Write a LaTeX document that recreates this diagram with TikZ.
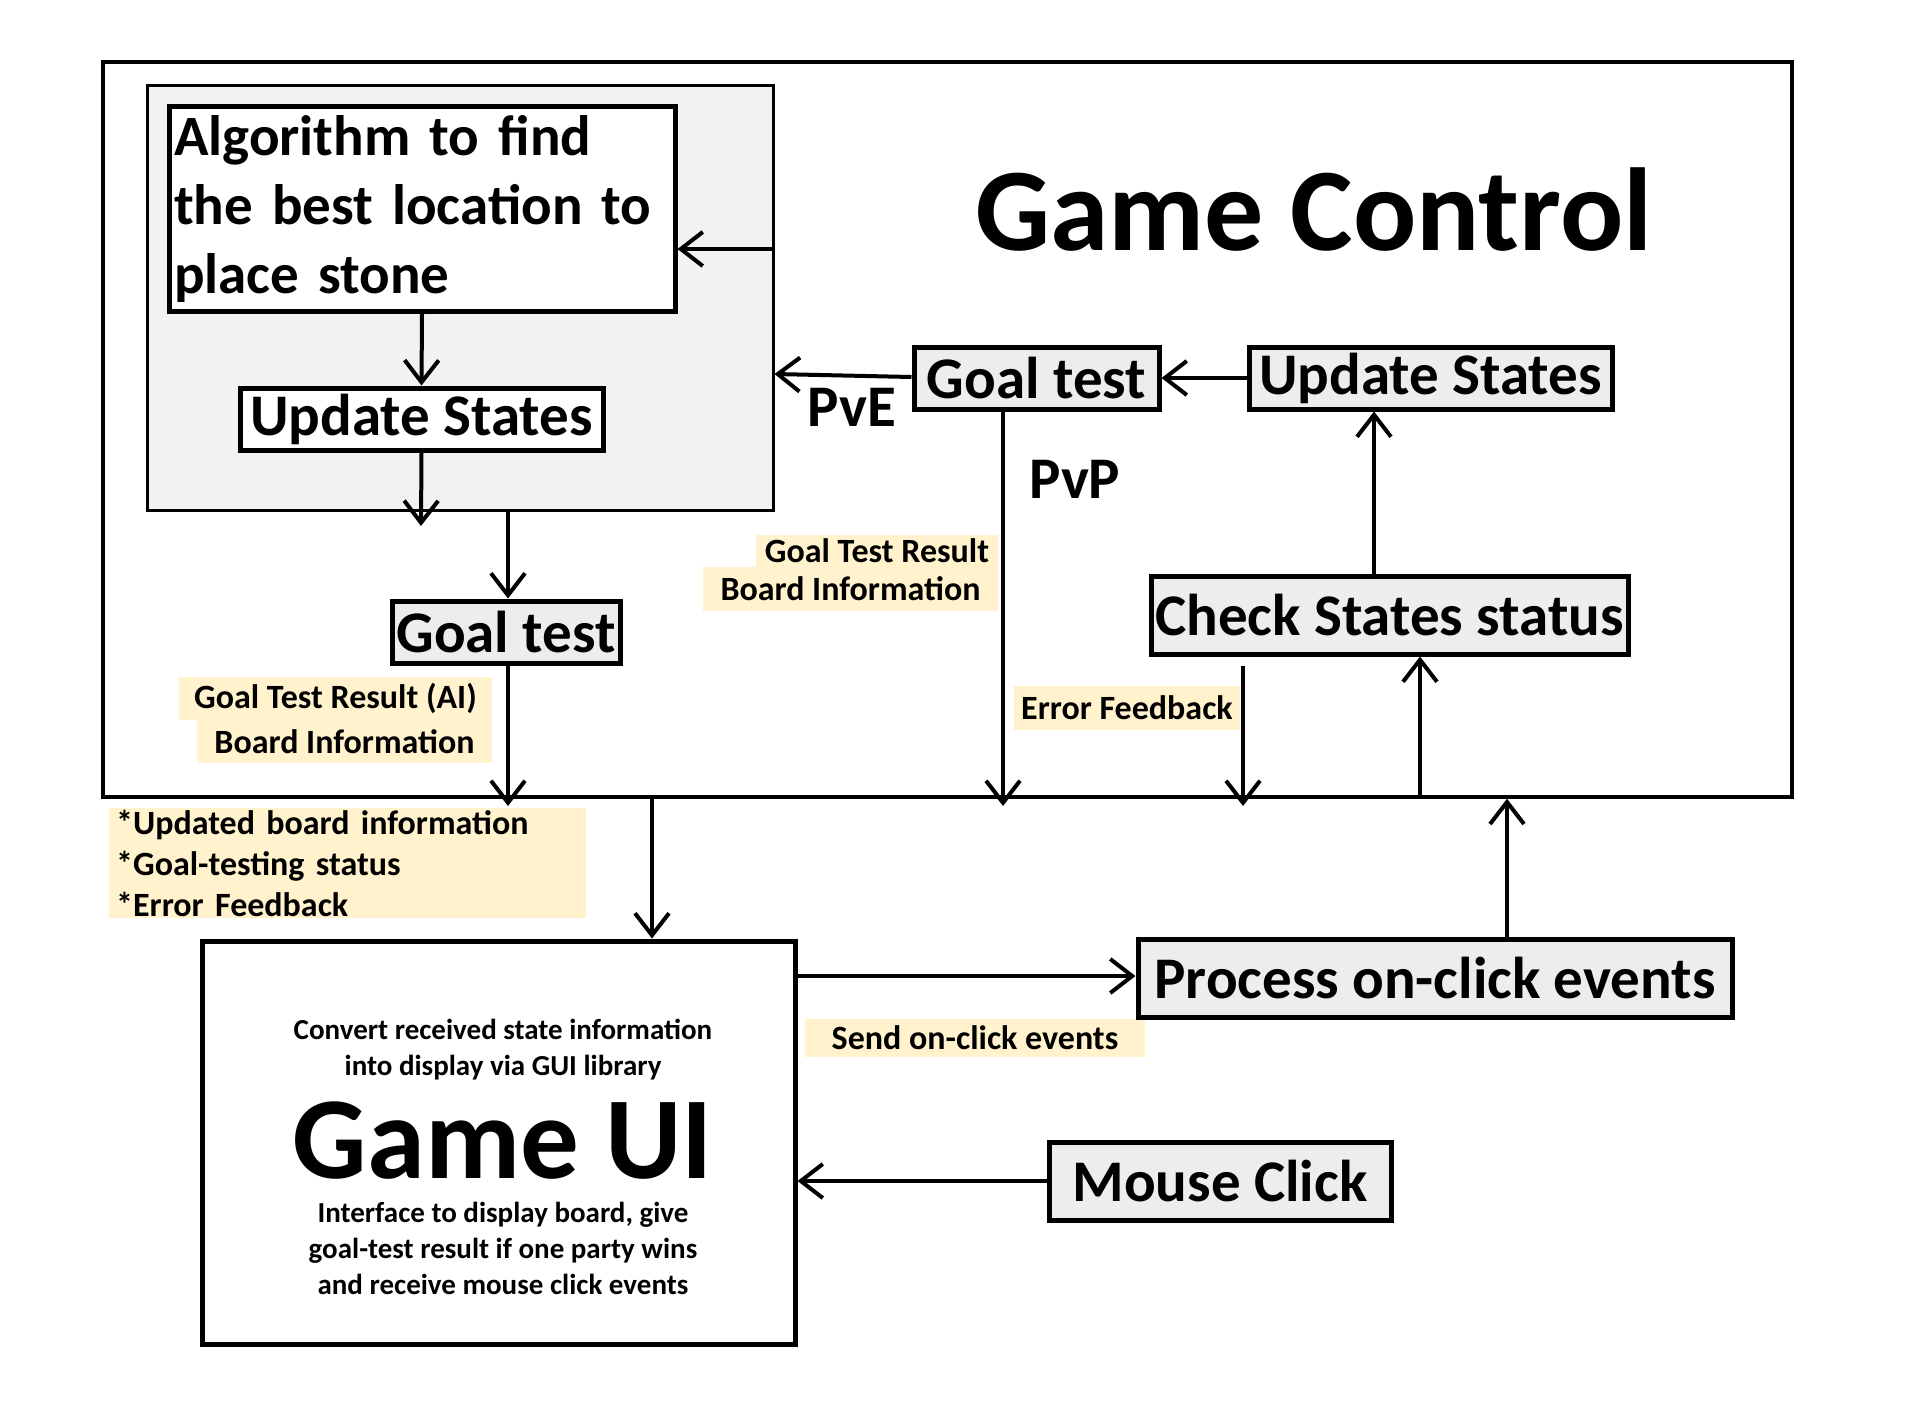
\documentclass[tikz,border=0pt]{standalone}
\usepackage{fontspec}
\setmainfont{Carlito}
\usetikzlibrary{arrows.meta}
\definecolor{boxgray}{HTML}{EDEDED}
\definecolor{aigray}{HTML}{F2F2F2}
\definecolor{cream}{HTML}{FFF2CC}
\newcommand{\fs}[2]{\fontsize{#1pt}{#2pt}\selectfont\bfseries}
\tikzset{
  box/.style={draw, line width=5pt, fill=boxgray, inner sep=0pt, font=\fs{59}{64}},
  lbl/.style={fill=cream, inner sep=0pt, font=\fs{34}{41}},
  arr/.style={line width=4pt, -{Straight Barb[length=22pt,width=34pt,line width=4pt]}},
  uitext/.style={inner sep=0pt, align=center}
}
\begin{document}
\begin{tikzpicture}[x=1pt,y=-1pt]
\useasboundingbox (0,0) rectangle (1916,1427);
% outer Game Control box
\node[draw, line width=3.5pt, minimum width=1689pt, minimum height=735pt, inner sep=0pt] (gc) at (947.5,429.5) {};
\node[font=\fs{118}{130}] (gctitle) at (1314,210) {Game Control};
% AI region
\node[draw, line width=3pt, fill=aigray, minimum width=626pt, minimum height=425pt, inner sep=0pt] (ai) at (460,297.5) {};
\node[box, fill=white, minimum width=506pt, minimum height=205pt, text width=496pt, align=left, inner xsep=5pt, font=\fs{57}{69}] (algo) at (422,208.5) {Algorithm to find\\the best location to\\place stone};
\node[box, fill=white, minimum width=363pt, minimum height=62pt] (upL) at (421.5,419) {Update States};
\node[box, minimum width=228pt, minimum height=62pt] (gtL) at (506,632) {Goal test};
% right side
\node[box, minimum width=245pt, minimum height=62pt] (gtR) at (1036.5,378) {Goal test};
\node[box, minimum width=363pt, minimum height=62pt] (upR) at (1430.5,378) {Update States};
\node[box, minimum width=477pt, minimum height=78pt] (chk) at (1389.5,615) {Check States status};
\node[font=\fs{59}{64}] (pve) at (852,407) {PvE};
\node[font=\fs{59}{64}] (pvp) at (1075,479) {PvP};
% labels
\node[lbl, minimum width=242pt, minimum height=32pt] (l1) at (877,551) {Goal Test Result};
\node[lbl, minimum width=295pt, minimum height=44pt] (l2) at (850.5,589) {Board Information};
\node[lbl, minimum width=313pt, minimum height=43pt] (l3) at (335.5,698.5) {Goal Test Result (AI)};
\node[lbl, minimum width=295pt, minimum height=43pt] (l4) at (344.5,741.5) {Board Information};
\node[lbl, minimum width=226pt, minimum height=44pt] (l5) at (1127,708) {Error Feedback};
\node[lbl, anchor=north west, minimum width=477pt, minimum height=110pt, text width=463pt, align=left, inner xsep=7pt] (l6) at (109,808) {*Updated board information\\{}*Goal-testing status\\{}*Error Feedback};
\node[lbl, minimum width=340pt, minimum height=38pt] (l7) at (975,1038) {Send on-click events};
% bottom
\node[draw, line width=5pt, minimum width=593pt, minimum height=403pt, inner sep=0pt] (ui) at (498.5,1142.5) {};
\node[uitext, font=\fs{29}{36}] (ui1) at (503,1050) {Convert received state information\\into display via GUI library};
\node[uitext, font=\fs{117}{120}] (ui2) at (503,1141) {Game UI};
\node[uitext, font=\fs{29}{36}] (ui3) at (503,1248) {Interface to display board, give\\goal-test result if one party wins\\and receive mouse click events};
\node[box, minimum width=594pt, minimum height=78pt] (proc) at (1435,978) {Process on-click events};
\node[box, minimum width=342pt, minimum height=78pt] (mouse) at (1220,1181) {Mouse Click};
% free ends
\coordinate (e1) at (421,526);
\coordinate (e2) at (508,806);
\coordinate (e3) at (1003,806);
\coordinate (e4s) at (1243,666);
\coordinate (e4) at (1243,806);
% connectors
\draw[arr] (ai.east |- 0,249) -- (algo.east |- 0,249);
\draw[arr] (algo.south) -- (upL.north);
\draw[arr] (upL.south) -- (e1);
\draw[arr] (ai.south -| 508,0) -- (gtL.north -| 508,0);
\draw[arr] (gtR.west |- 0,377) -- (ai.east |- 0,374);
\draw[arr] (upR.west) -- (gtR.east);
\draw[arr] (gtR.south -| e3) -- (e3);
\draw[arr] (chk.north -| 1374,0) -- (upR.south -| 1374,0);
\draw[arr] (e4s) -- (e4);
\draw[arr] (gc.south -| 1420,0) -- (chk.south -| 1420,0);
\draw[arr] (gtL.south -| e2) -- (e2);
\draw[arr] (gc.south -| 652,0) -- (ui.north -| 652,0);
\draw[arr] (ui.east |- 0,976) -- (proc.west |- 0,976);
\draw[arr] (proc.north -| 1507,0) -- (gc.south -| 1507,0);
\draw[arr] (mouse.west) -- (ui.east |- mouse.west);
\end{tikzpicture}
\end{document}
